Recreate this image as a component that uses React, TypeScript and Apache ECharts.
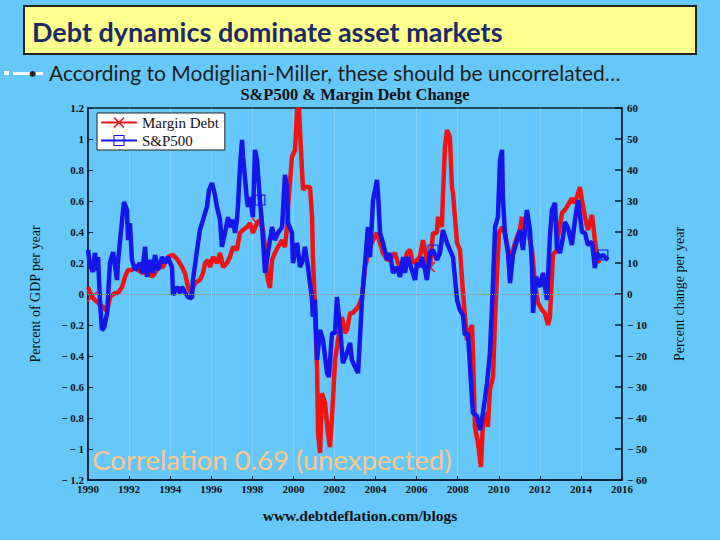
import React, { useEffect, useRef } from "react";
import * as echarts from "echarts";

// Margin Debt change (percent of GDP per year) — left axis
const MD_YEARS = [
  1990.0, 1990.19, 1990.49, 1990.73, 1990.93, 1991.07, 1991.31, 1991.46, 1991.66, 1991.8, 1991.95, 1992.14, 1992.29,
  1992.43, 1992.68, 1992.92, 1993.12, 1993.26, 1993.41, 1993.65, 1993.89, 1994.14, 1994.38, 1994.58, 1994.72, 1994.87,
  1995.01, 1995.21, 1995.45, 1995.6, 1995.7, 1995.84, 1995.94, 1996.09, 1996.28, 1996.43, 1996.57, 1996.77, 1996.91,
  1997.06, 1997.25, 1997.4, 1997.55, 1997.74, 1997.89, 1998.03, 1998.23, 1998.37, 1998.52, 1998.62, 1998.71, 1998.76,
  1998.86, 1998.96, 1999.1, 1999.25, 1999.45, 1999.59, 1999.69, 1999.74, 1999.93, 2000.08, 2000.18, 2000.27, 2000.37,
  2000.47, 2000.56, 2000.81, 2000.91, 2000.95, 2001.05, 2001.15, 2001.2, 2001.3, 2001.39, 2001.54, 2001.68, 2001.78,
  2001.88, 2002.03, 2002.17, 2002.37, 2002.51, 2002.61, 2002.76, 2002.9, 2003.15, 2003.34, 2003.49, 2003.73, 2003.88,
  2004.07, 2004.22, 2004.36, 2004.56, 2004.8, 2004.95, 2005.09, 2005.34, 2005.53, 2005.68, 2005.82, 2006.02, 2006.16,
  2006.31, 2006.5, 2006.65, 2006.8, 2006.99, 2007.04, 2007.23, 2007.28, 2007.38, 2007.48, 2007.62, 2007.72, 2007.77,
  2007.97, 2008.11, 2008.26, 2008.45, 2008.6, 2008.7, 2008.74, 2008.84, 2008.99, 2009.13, 2009.23, 2009.43, 2009.47,
  2009.57, 2009.72, 2009.82, 2009.91, 2010.01, 2010.16, 2010.3, 2010.45, 2010.59, 2010.69, 2010.89, 2011.03, 2011.13,
  2011.18, 2011.37, 2011.52, 2011.62, 2011.76, 2011.91, 2012.1, 2012.25, 2012.4, 2012.49, 2012.64, 2012.83, 2012.88,
  2013.08, 2013.22, 2013.37, 2013.56, 2013.61, 2013.81, 2013.95, 2014.05, 2014.2, 2014.34, 2014.54, 2014.68, 2014.83,
  2014.93,
];
const MD_VALUES = [
  0.045, -0.019, -0.058, -0.084, -0.11, -0.019, 0.006, 0.006, 0.045, 0.11, 0.155, 0.155, 0.174,
  0.155, 0.135, 0.155, 0.11, 0.135, 0.174, 0.174, 0.239, 0.252, 0.219, 0.174, 0.135, 0.045,
  0.006, 0.071, 0.09, 0.135, 0.2, 0.219, 0.174, 0.239, 0.2, 0.265, 0.174, 0.2, 0.239,
  0.303, 0.284, 0.394, 0.413, 0.432, 0.458, 0.394, 0.458, 0.477, 0.413, 0.303, 0.135, 0.09,
  0.039, 0.219, 0.265, 0.303, 0.348, 0.303, 0.432, 0.561, 0.884, 0.929, 1.187, 1.2, 0.929,
  0.671, 0.69, 0.69, 0.497, 0.239, -0.084, -0.471, -0.897, -1.026, -0.639, -0.703, -0.897, -0.987,
  -0.794, -0.426, -0.297, -0.148, -0.252, -0.232, -0.123, -0.123, -0.084, -0.019, 0.174, 0.303, 0.348,
  0.394, 0.329, 0.265, 0.219, 0.239, 0.265, 0.2, 0.155, 0.265, 0.284, 0.2, 0.219, 0.239,
  0.348, 0.219, 0.174, 0.394, 0.394, 0.497, 0.432, 0.626, 0.948, 1.058, 1.013, 0.69, 0.652,
  0.329, 0.284, 0.006, -0.297, -0.232, -0.2, -0.361, -0.858, -0.961, -1.116, -0.832, -0.768, -0.858,
  -0.619, -0.535, -0.148, 0.11, 0.394, 0.432, 0.394, 0.284, 0.219, 0.284, 0.368, 0.413, 0.497,
  0.413, 0.458, 0.348, 0.284, 0.071, -0.058, -0.103, -0.123, -0.2, -0.148, 0.252, 0.284, 0.368,
  0.523, 0.542, 0.574, 0.619, 0.587, 0.626, 0.69, 0.606, 0.497, 0.413, 0.51, 0.348, 0.206,
  0.219,
];

// S&P500 change (percent per year) — right axis
const SP_YEARS = [
  1990.0, 1990.1, 1990.24, 1990.34, 1990.44, 1990.49, 1990.58, 1990.68, 1990.78, 1990.93, 1991.07, 1991.22, 1991.41,
  1991.46, 1991.66, 1991.75, 1991.9, 1991.95, 1992.04, 1992.14, 1992.29, 1992.53, 1992.63, 1992.78, 1992.87, 1993.02,
  1993.16, 1993.26, 1993.41, 1993.6, 1993.75, 1993.89, 1994.09, 1994.14, 1994.33, 1994.48, 1994.58, 1994.72, 1994.87,
  1995.06, 1995.11, 1995.31, 1995.45, 1995.6, 1995.79, 1995.89, 1996.04, 1996.18, 1996.28, 1996.43, 1996.52, 1996.67,
  1996.82, 1996.91, 1997.06, 1997.16, 1997.25, 1997.3, 1997.4, 1997.5, 1997.55, 1997.74, 1997.79, 1997.89, 1998.03,
  1998.13, 1998.23, 1998.37, 1998.47, 1998.52, 1998.62, 1998.76, 1998.96, 1999.1, 1999.25, 1999.45, 1999.59, 1999.69,
  1999.74, 1999.93, 1999.98, 2000.18, 2000.32, 2000.47, 2000.56, 2000.71, 2000.91, 2000.95, 2001.05, 2001.15, 2001.3,
  2001.44, 2001.64, 2001.73, 2001.88, 2002.03, 2002.12, 2002.27, 2002.41, 2002.61, 2002.76, 2002.85, 2003.0, 2003.15,
  2003.34, 2003.49, 2003.63, 2003.73, 2003.88, 2004.07, 2004.12, 2004.22, 2004.36, 2004.56, 2004.7, 2004.85, 2005.04,
  2005.19, 2005.34, 2005.43, 2005.58, 2005.77, 2005.92, 2006.02, 2006.16, 2006.26, 2006.41, 2006.5, 2006.65, 2006.8,
  2006.99, 2007.14, 2007.28, 2007.48, 2007.62, 2007.77, 2007.97, 2008.11, 2008.26, 2008.35, 2008.5, 2008.65, 2008.74,
  2008.94, 2009.09, 2009.23, 2009.43, 2009.57, 2009.72, 2009.82, 2009.96, 2010.06, 2010.16, 2010.2, 2010.3, 2010.45,
  2010.55, 2010.69, 2010.89, 2011.03, 2011.18, 2011.37, 2011.52, 2011.62, 2011.67, 2011.81, 2012.01, 2012.15, 2012.35,
  2012.49, 2012.59, 2012.74, 2012.83, 2012.98, 2013.13, 2013.22, 2013.37, 2013.56, 2013.71, 2013.86, 2014.05, 2014.2,
  2014.34, 2014.54, 2014.68, 2014.78, 2014.93, 2015.07, 2015.32,
];
const SP_VALUES = [
  14.2, 9.4, 7.1, 13.2, 7.7, 11.9, -1.9, -11.6, -11.0, -6.1, 10.0, 13.5, 4.5,
  10.3, 23.9, 29.7, 27.1, 17.4, 22.9, 11.0, 7.7, 10.0, 6.8, 15.2, 5.5, 11.0,
  6.8, 12.6, 7.7, 11.9, 10.0, 11.9, 8.7, -0.3, 2.3, 0.3, 2.3, 0.6, -1.0,
  -1.3, 4.5, 14.2, 20.6, 23.9, 28.1, 33.5, 35.8, 31.9, 28.1, 23.9, 15.2, 19.7,
  24.8, 21.6, 23.9, 19.7, 23.9, 28.1, 41.0, 49.7, 44.2, 30.3, 28.1, 31.3, 24.8,
  46.5, 43.2, 30.3, 22.9, 17.4, 6.8, 13.2, 21.6, 17.4, 19.7, 21.6, 38.4, 34.5,
  22.9, 19.7, 10.0, 16.5, 8.7, 11.0, 15.2, 8.7, -1.9, -7.4, -1.9, -21.3, -11.6,
  -14.8, -25.5, -26.8, -12.6, -12.6, -1.0, -10.6, -22.3, -19.0, -15.8, -21.3, -23.5, -25.5,
  -1.9, 10.0, 21.6, 11.9, 30.3, 36.8, 32.6, 19.7, 16.5, 11.0, 13.2, 6.8, 8.7,
  5.5, 11.9, 6.8, 11.9, 7.7, 4.5, 10.0, 8.7, 11.9, 7.7, 4.5, 13.2, 14.2,
  11.0, 13.2, 20.6, 16.5, 14.2, 11.9, -1.9, -5.2, -6.8, -13.2, -12.6, -28.7, -38.4,
  -39.4, -43.9, -38.4, -28.7, -19.0, 3.5, 21.6, 24.8, 43.2, 46.5, 31.3, 19.7, 13.2,
  3.5, 12.6, 17.4, 20.6, 14.2, 27.1, 20.6, 8.7, -6.1, 5.5, 2.3, 6.8, -1.9,
  18.4, 27.1, 29.4, 15.2, 13.2, 18.4, 23.2, 21.3, 15.8, 23.9, 30.3, 20.0, 19.7,
  15.8, 16.8, 8.4, 13.2, 11.9, 12.6, 11.0,
];

// Points where the original plot shows its marker symbols
const MD_MARKER_YEARS = [1990.19, 1998.23, 2006.65];
const SP_MARKER_YEARS = [1998.37, 2006.8, 2015.07];

const SERIES_NAMES = ["Margin Debt", "S&P500"];

const X_SYMBOL = "path://M0,1L1,0L5,4L9,0L10,1L6,5L10,9L9,10L5,6L1,10L0,9L4,5Z";
const SQ_SYMBOL = "path://M0,0L10,0L10,10L0,10Z M1,9L9,9L9,1L1,1Z";

const RED = "#ee1414";
const BLUE = "#1616ea";
const AXIS = "#0c1a30";
const SERIF = "'Liberation Serif', 'DejaVu Serif', serif";

function buildData(years: number[], values: number[], markers: number[]) {
  return years.map((y, i) => {
    const item: any = { value: [y, values[i]] };
    if (!markers.includes(y)) item.symbol = "none";
    return item;
  });
}

function fmtLeft(v: number) {
  const r = Math.round(v * 10) / 10;
  if (r < 0) return "\u2212 " + String(Math.abs(r));
  return String(r);
}
function fmtRight(v: number) {
  const r = Math.round(v);
  if (r < 0) return "\u2212 " + String(Math.abs(r));
  return String(r);
}

export default function App() {
  const ref = useRef<HTMLDivElement>(null);
  useEffect(() => {
    if (!ref.current) return;
    const chart = echarts.init(ref.current, null, { renderer: "svg" });
    const axisLabel = {
      color: "#111",
      fontFamily: SERIF,
      fontWeight: "bold" as const,
      fontSize: 11,
    };
    chart.setOption({
      animation: false,
      backgroundColor: "transparent",
      grid: {
        left: 88,
        right: 98,
        top: 108,
        bottom: 60,
        show: true,
        borderColor: AXIS,
        borderWidth: 1.5,
        backgroundColor: "transparent",
      },
      xAxis: {
        type: "value",
        min: 1990,
        max: 2016,
        interval: 2,
        axisLine: { show: true, onZero: false, lineStyle: { color: AXIS, width: 1.5 } },
        axisTick: { show: true, inside: true, length: 4, lineStyle: { color: AXIS } },
        axisLabel: { ...axisLabel, margin: 3, formatter: (v: number) => String(v) },
        splitLine: { show: true, lineStyle: { color: "rgba(200,232,255,0.3)", width: 1 } },
      },
      yAxis: [
        {
          type: "value",
          min: -1.2,
          max: 1.2,
          interval: 0.2,
          position: "left",
          name: "Percent of GDP per year",
          nameLocation: "middle",
          nameRotate: 90,
          nameGap: 46,
          nameTextStyle: { fontFamily: SERIF, fontSize: 14, color: "#111" },
          axisLine: { show: true, onZero: false, lineStyle: { color: AXIS, width: 1.5 } },
          axisTick: { show: true, inside: true, length: 5, lineStyle: { color: AXIS } },
          axisLabel: { ...axisLabel, margin: 4, formatter: fmtLeft },
          splitLine: { show: false },
        },
        {
          type: "value",
          min: -60,
          max: 60,
          interval: 10,
          position: "right",
          name: "Percent change per year",
          nameLocation: "middle",
          nameRotate: 90,
          nameGap: 50,
          nameTextStyle: { fontFamily: SERIF, fontSize: 14, color: "#111" },
          axisLine: { show: true, onZero: false, lineStyle: { color: AXIS, width: 1.5 } },
          axisTick: { show: true, inside: true, length: 7, lineStyle: { color: AXIS, width: 1.5 } },
          axisLabel: { ...axisLabel, margin: 5, formatter: fmtRight },
          splitLine: { show: false },
        },
      ],
      legend: {
        left: 97,
        top: 113,
        orient: "vertical",
        backgroundColor: "#ffffff",
        borderColor: "#222",
        borderWidth: 1,
        padding: [2, 6, 2, 3],
        itemGap: 3,
        itemWidth: 36,
        itemHeight: 14,
        textStyle: { fontFamily: SERIF, fontSize: 15, color: "#111" },
        data: SERIES_NAMES,
      },
      series: [
        {
          name: SERIES_NAMES[0],
          type: "line",
          yAxisIndex: 0,
          data: buildData(MD_YEARS, MD_VALUES, MD_MARKER_YEARS),
          symbol: X_SYMBOL,
          symbolSize: 11,
          showSymbol: true,
          lineStyle: { color: RED, width: 4.5 },
          itemStyle: { color: RED },
          z: 2,
          markLine: {
            silent: true,
            symbol: "none",
            label: { show: false },
            lineStyle: { color: "#7d98a8", type: "dotted", width: 1 },
            data: [{ yAxis: 0 }],
          },
        },
        {
          name: SERIES_NAMES[1],
          type: "line",
          yAxisIndex: 1,
          data: buildData(SP_YEARS, SP_VALUES, SP_MARKER_YEARS),
          symbol: SQ_SYMBOL,
          symbolSize: 11,
          showSymbol: true,
          lineStyle: { color: BLUE, width: 4.5 },
          itemStyle: { color: BLUE },
          z: 3,
        },
      ],
      graphic: [
        {
          type: "rect",
          shape: { x: 24, y: 6, width: 672, height: 48 },
          style: { fill: "#ffff8e", stroke: "#222", lineWidth: 2 },
          z: 10,
        },
        {
          type: "text",
          x: 32,
          y: 31,
          style: {
            text: "Debt dynamics dominate asset markets",
            font: "bold 27px Lato",
            fill: "#1c2a66",
            textAlign: "left",
            textVerticalAlign: "middle",
          },
          z: 11,
        },
        { type: "rect", shape: { x: 4, y: 71, width: 5, height: 4 }, style: { fill: "#ffffff" }, z: 10 },
        { type: "rect", shape: { x: 13, y: 72, width: 30, height: 3 }, style: { fill: "#ffffff" }, z: 10 },
        {
          type: "text",
          x: 28,
          y: 72,
          style: { text: "\u2022", font: "16px Lato", fill: "#222", textAlign: "left", textVerticalAlign: "middle" },
          z: 11,
        },
        {
          type: "text",
          x: 49,
          y: 72,
          style: {
            text: "According to Modigliani-Miller, these should be uncorrelated\u2026",
            font: "21px Lato",
            fill: "#1e1e1e",
            textAlign: "left",
            textVerticalAlign: "middle",
          },
          z: 11,
        },
        {
          type: "text",
          x: 355,
          y: 94,
          style: {
            text: "S&P500 & Margin Debt Change",
            font: "bold 16.5px 'Liberation Serif'",
            fill: "#111",
            textAlign: "center",
            textVerticalAlign: "middle",
          },
          z: 11,
        },
        {
          type: "text",
          x: 360,
          y: 515,
          style: {
            text: "www.debtdeflation.com/blogs",
            font: "bold 15.5px 'Liberation Serif'",
            fill: "#111",
            textAlign: "center",
            textVerticalAlign: "middle",
          },
          z: 11,
        },
        {
          type: "text",
          x: 92,
          y: 459,
          style: {
            text: "Correlation 0.69 (unexpected)",
            font: "27.5px Lato",
            fill: "#fac68a",
            textAlign: "left",
            textVerticalAlign: "middle",
          },
          z: 11,
        },
      ],
    });
    return () => chart.dispose();
  }, []);
  return (
    <div
      ref={ref}
      style={{ position: "fixed", left: 0, top: 0, width: 720, height: 540, background: "#66c8fa" }}
    />
  );
}
